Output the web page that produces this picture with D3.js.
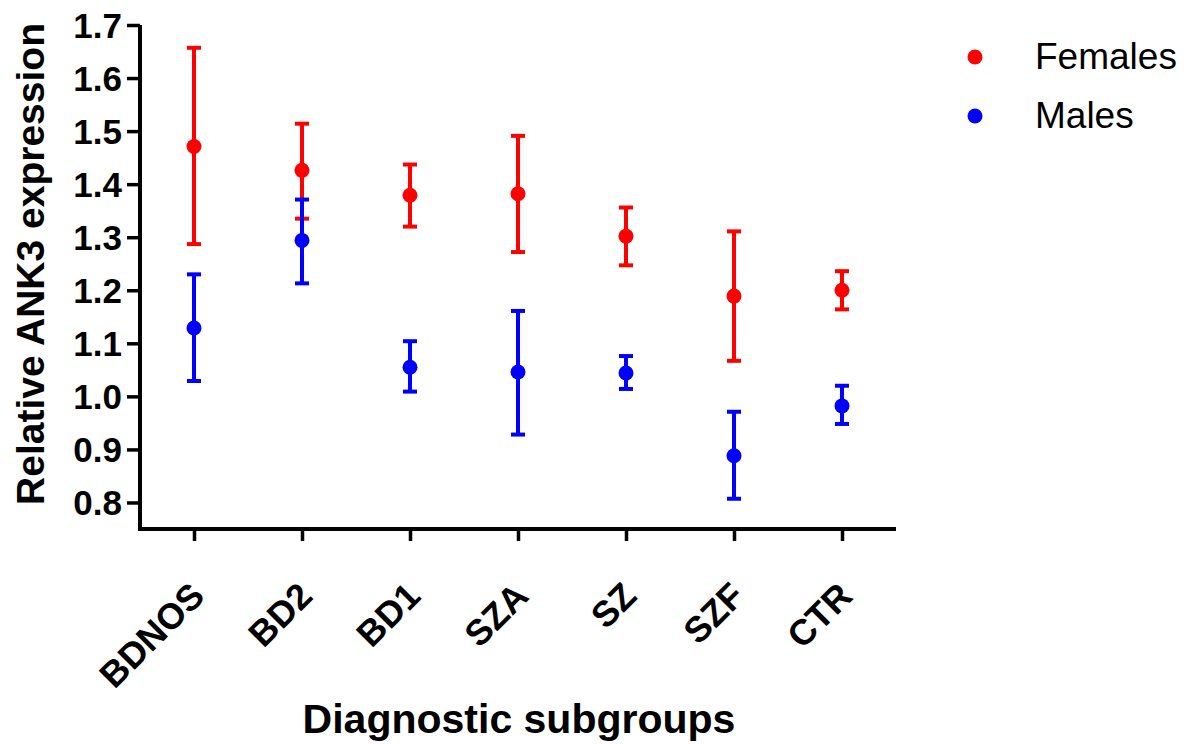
<!DOCTYPE html>
<html>
<head>
<meta charset="utf-8">
<script src="https://cdn.jsdelivr.net/npm/d3@7"></script>
<style>
  body { margin: 0; background: #fff; }
  text { font-family: "Liberation Sans", Arial, sans-serif; }
</style>
</head>
<body>
<svg id="chart" width="1196" height="744"></svg>
<script>
var groups = ["BDNOS", "BD2", "BD1", "SZA", "SZ", "SZF", "CTR"];
var yTicks = [0.8, 0.9, 1.0, 1.1, 1.2, 1.3, 1.4, 1.5, 1.6, 1.7];

// Females: mean, lower and upper end of the error bar
var femaleMean = [1.471, 1.426, 1.379, 1.382, 1.302, 1.189, 1.200];
var femaleLow  = [1.287, 1.335, 1.320, 1.272, 1.247, 1.067, 1.164];
var femaleHigh = [1.657, 1.514, 1.437, 1.491, 1.356, 1.311, 1.236];

// Males
var maleMean = [1.129, 1.294, 1.055, 1.046, 1.044, 0.888, 0.982];
var maleLow  = [1.029, 1.213, 1.009, 0.928, 1.014, 0.807, 0.948];
var maleHigh = [1.230, 1.371, 1.104, 1.161, 1.076, 0.971, 1.020];

var seriesNames = ["Females", "Males"];
var seriesColors = ["#ff0000", "#0000ff"];

var svg = d3.select("#chart");

var x = d3.scalePoint()
    .domain(groups)
    .range([140, 896])
    .padding(0.5);

var y = d3.scaleLinear()
    .domain([0.75, 1.7])
    .range([529, 25]);

function makeRows(mean, low, high) {
    return groups.map(function (g, i) {
        return { group: g, mean: mean[i], low: low[i], high: high[i] };
    });
}

var series = [
    { name: "Females", color: seriesColors[0], rows: makeRows(femaleMean, femaleLow, femaleHigh) },
    { name: "Males", color: seriesColors[1], rows: makeRows(maleMean, maleLow, maleHigh) }
];

// y axis
var yAxis = svg.append("g")
    .attr("transform", "translate(140,0)")
    .call(d3.axisLeft(y).tickValues(yTicks).tickFormat(d3.format(".1f")).tickSize(13).tickPadding(5));

// x axis
var xAxis = svg.append("g")
    .attr("transform", "translate(0,529)")
    .call(d3.axisBottom(x).tickSize(12).tickSizeOuter(0));

[yAxis, xAxis].forEach(function (ax) {
    ax.select(".domain").attr("stroke", "#000").attr("stroke-width", 4);
    ax.selectAll(".tick line").attr("stroke", "#000").attr("stroke-width", 3.5);
});
yAxis.select(".domain").attr("d", "M0,529V25");
xAxis.select(".domain").attr("d", "M138,0H896");

yAxis.selectAll(".tick text")
    .attr("fill", "#000")
    .style("font-size", "35px")
    .style("font-weight", "bold")
    .attr("dy", "0.35em");

xAxis.selectAll(".tick text")
    .attr("fill", "#000")
    .style("font-size", "36px")
    .style("font-weight", "bold")
    .attr("text-anchor", "end")
    .attr("y", 0)
    .attr("dy", 0)
    .attr("transform", "translate(12,69) rotate(-45)");

// error bars and points
var capW = 7;
series.forEach(function (s) {
    var g = svg.append("g").attr("class", "series");
    var bars = g.selectAll(".bar").data(s.rows).enter().append("g");
    bars.append("line")
        .attr("x1", function (d) { return x(d.group); })
        .attr("x2", function (d) { return x(d.group); })
        .attr("y1", function (d) { return y(d.low); })
        .attr("y2", function (d) { return y(d.high); });
    bars.append("line")
        .attr("x1", function (d) { return x(d.group) - capW; })
        .attr("x2", function (d) { return x(d.group) + capW; })
        .attr("y1", function (d) { return y(d.high); })
        .attr("y2", function (d) { return y(d.high); });
    bars.append("line")
        .attr("x1", function (d) { return x(d.group) - capW; })
        .attr("x2", function (d) { return x(d.group) + capW; })
        .attr("y1", function (d) { return y(d.low); })
        .attr("y2", function (d) { return y(d.low); });
    bars.selectAll("line")
        .attr("stroke", s.color)
        .attr("stroke-width", 4);
    bars.append("circle")
        .attr("cx", function (d) { return x(d.group); })
        .attr("cy", function (d) { return y(d.mean); })
        .attr("r", 7.5)
        .attr("fill", s.color);
});

// axis titles
svg.append("text")
    .attr("x", 519)
    .attr("y", 733)
    .attr("text-anchor", "middle")
    .style("font-size", "41px")
    .style("font-weight", "bold")
    .text("Diagnostic subgroups");

svg.append("text")
    .attr("transform", "translate(44,264) rotate(-90)")
    .attr("text-anchor", "middle")
    .style("font-size", "39px")
    .style("font-weight", "bold")
    .text("Relative ANK3 expression");

// legend
var legend = svg.append("g").attr("class", "legend");
var legendY = [57, 116];
seriesNames.forEach(function (name, i) {
    legend.append("circle")
        .attr("cx", 975)
        .attr("cy", legendY[i])
        .attr("r", 7.5)
        .attr("fill", seriesColors[i]);
    legend.append("text")
        .attr("x", 1035)
        .attr("y", legendY[i] + 12)
        .style("font-size", "37px")
        .attr("fill", "#000")
        .text(name);
});
</script>
</body>
</html>
